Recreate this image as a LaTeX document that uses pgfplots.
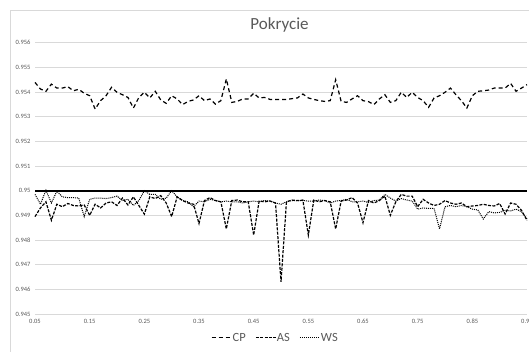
\documentclass[border=0pt]{standalone}
\usepackage{pgfplots}
\usepackage{pgfplotstable}
\pgfplotsset{compat=1.18}
\usepackage{fontspec}
\setmainfont{Carlito}

\definecolor{txtgray}{HTML}{595959}
\definecolor{gridgray}{HTML}{D9D9D9}

% x, CP, AS, WS
\pgfplotstableread{
x    cp      as      ws
0.05 0.95439 0.94895 0.94985
0.06 0.95412 0.94930 0.94945
0.07 0.95403 0.94955 0.95002
0.08 0.95432 0.94880 0.94950
0.09 0.95416 0.94945 0.94998
0.10 0.95416 0.94935 0.94975
0.11 0.95422 0.94948 0.94972
0.12 0.95405 0.94940 0.94972
0.13 0.95411 0.94938 0.94970
0.14 0.95395 0.94942 0.94895
0.15 0.95385 0.94900 0.94965
0.16 0.95331 0.94945 0.94970
0.17 0.95365 0.94930 0.94970
0.18 0.95385 0.94950 0.94968
0.19 0.95419 0.94955 0.94972
0.20 0.95399 0.94940 0.94978
0.21 0.95389 0.94970 0.94960
0.22 0.95378 0.94942 0.94965
0.23 0.95335 0.94975 0.94940
0.24 0.95378 0.94940 0.94960
0.25 0.95399 0.94905 0.95000
0.26 0.95376 0.94975 0.94985
0.27 0.95403 0.94968 0.94985
0.28 0.95368 0.94980 0.94965
0.29 0.95354 0.94950 0.94970
0.30 0.95385 0.94895 0.95000
0.31 0.95372 0.94975 0.94975
0.32 0.95349 0.94960 0.94960
0.33 0.95362 0.94950 0.94955
0.34 0.95368 0.94945 0.94935
0.35 0.95385 0.94867 0.94958
0.36 0.95365 0.94960 0.94955
0.37 0.95372 0.94972 0.94965
0.38 0.95351 0.94960 0.94960
0.39 0.95365 0.94955 0.94955
0.40 0.95453 0.94845 0.94958
0.41 0.95358 0.94960 0.94955
0.42 0.95362 0.94962 0.94955
0.43 0.95372 0.94955 0.94950
0.44 0.95372 0.94955 0.94955
0.45 0.95395 0.94820 0.94958
0.46 0.95376 0.94958 0.94955
0.47 0.95378 0.94955 0.94960
0.48 0.95370 0.94958 0.94958
0.49 0.95370 0.94950 0.94950
0.50 0.95370 0.94630 0.94945
0.51 0.95370 0.94955 0.94955
0.52 0.95373 0.94962 0.94960
0.53 0.95376 0.94960 0.94960
0.54 0.95392 0.94962 0.94960
0.55 0.95376 0.94820 0.94958
0.56 0.95370 0.94962 0.94958
0.57 0.95365 0.94955 0.94962
0.58 0.95362 0.94960 0.94960
0.59 0.95365 0.94955 0.94950
0.60 0.95450 0.94845 0.94958
0.61 0.95362 0.94958 0.94960
0.62 0.95358 0.94962 0.94965
0.63 0.95372 0.94972 0.94955
0.64 0.95385 0.94950 0.94955
0.65 0.95365 0.94870 0.94958
0.66 0.95361 0.94960 0.94952
0.67 0.95349 0.94950 0.94960
0.68 0.95372 0.94960 0.94962
0.69 0.95389 0.94978 0.94985
0.70 0.95358 0.94900 0.94970
0.71 0.95365 0.94955 0.94958
0.72 0.95399 0.94985 0.94968
0.73 0.95378 0.94978 0.94962
0.74 0.95399 0.94978 0.94958
0.75 0.95378 0.94935 0.94925
0.76 0.95365 0.94965 0.94930
0.77 0.95338 0.94950 0.94928
0.78 0.95376 0.94940 0.94928
0.79 0.95385 0.94945 0.94845
0.80 0.95399 0.94960 0.94935
0.81 0.95416 0.94950 0.94940
0.82 0.95389 0.94945 0.94935
0.83 0.95365 0.94950 0.94940
0.84 0.95335 0.94935 0.94935
0.85 0.95385 0.94938 0.94925
0.86 0.95403 0.94940 0.94922
0.87 0.95405 0.94945 0.94885
0.88 0.95408 0.94940 0.94915
0.89 0.95416 0.94938 0.94910
0.90 0.95416 0.94948 0.94912
0.91 0.95416 0.94905 0.94920
0.92 0.95435 0.94950 0.94918
0.93 0.95403 0.94945 0.94925
0.94 0.95416 0.94920 0.94915
0.95 0.95430 0.94880 0.94885
}\datatable

\begin{document}
\begin{tikzpicture}
\useasboundingbox (0pt,0pt) rectangle (529pt,351pt);
% chart area frame
\draw[gridgray, line width=0.75pt] (10pt,-20pt) rectangle (560pt,341pt);
\node[font=\fontsize{17}{19}\selectfont, text=txtgray] at (279.5pt,326pt) {Pokrycie};
\begin{axis}[
  at={(35pt,37pt)}, anchor=south west,
  scale only axis,
  width=492pt, height=271.3pt,
  xmin=0.05, xmax=0.95,
  ymin=0.945, ymax=0.956,
  xtick={0.05,0.15,0.25,0.35,0.45,0.55,0.65,0.75,0.85,0.95},
  xticklabels={0.05,0.15,0.25,0.35,0.45,0.55,0.65,0.75,0.85,0.95},
  ytick={0.945,0.946,0.947,0.948,0.949,0.95,0.951,0.952,0.953,0.954,0.955,0.956},
  yticklabels={0.945,0.946,0.947,0.948,0.949,0.95,0.951,0.952,0.953,0.954,0.955,0.956},
  ymajorgrids,
  grid style={gridgray, line width=0.75pt},
  axis line style={draw=none},
  tick style={draw=none},
  ticklabel style={font=\fontsize{6.5}{7}\selectfont, text=txtgray},
  yticklabel style={xshift=-1pt},
  xticklabel style={yshift=-2pt},
  clip=false,
  legend columns=3,
  legend style={draw=none, fill=none, at={(0.487,-0.088)}, anchor=center,
    font=\fontsize{12.5}{13}\selectfont, text=txtgray,
    nodes={inner xsep=0.5pt},
    /tikz/every even column/.append style={column sep=9pt}},
  legend image code/.code={\draw[#1] (0pt,0pt) -- (20pt,0pt);},
]
\addplot[black, line width=1.8pt, forget plot] coordinates {(0.05,0.95) (0.95,0.95)};
\addplot[black, line width=1.2pt, dash pattern=on 4pt off 3pt] table[x=x, y=cp] {\datatable};
\addplot[black, line width=1.2pt, dash pattern=on 3pt off 1.4pt] table[x=x, y=as] {\datatable};
\addplot[black, line width=1pt, dash pattern=on 1pt off 1pt] table[x=x, y=ws] {\datatable};
\legend{CP, AS, WS}
\end{axis}
\end{tikzpicture}
\end{document}
